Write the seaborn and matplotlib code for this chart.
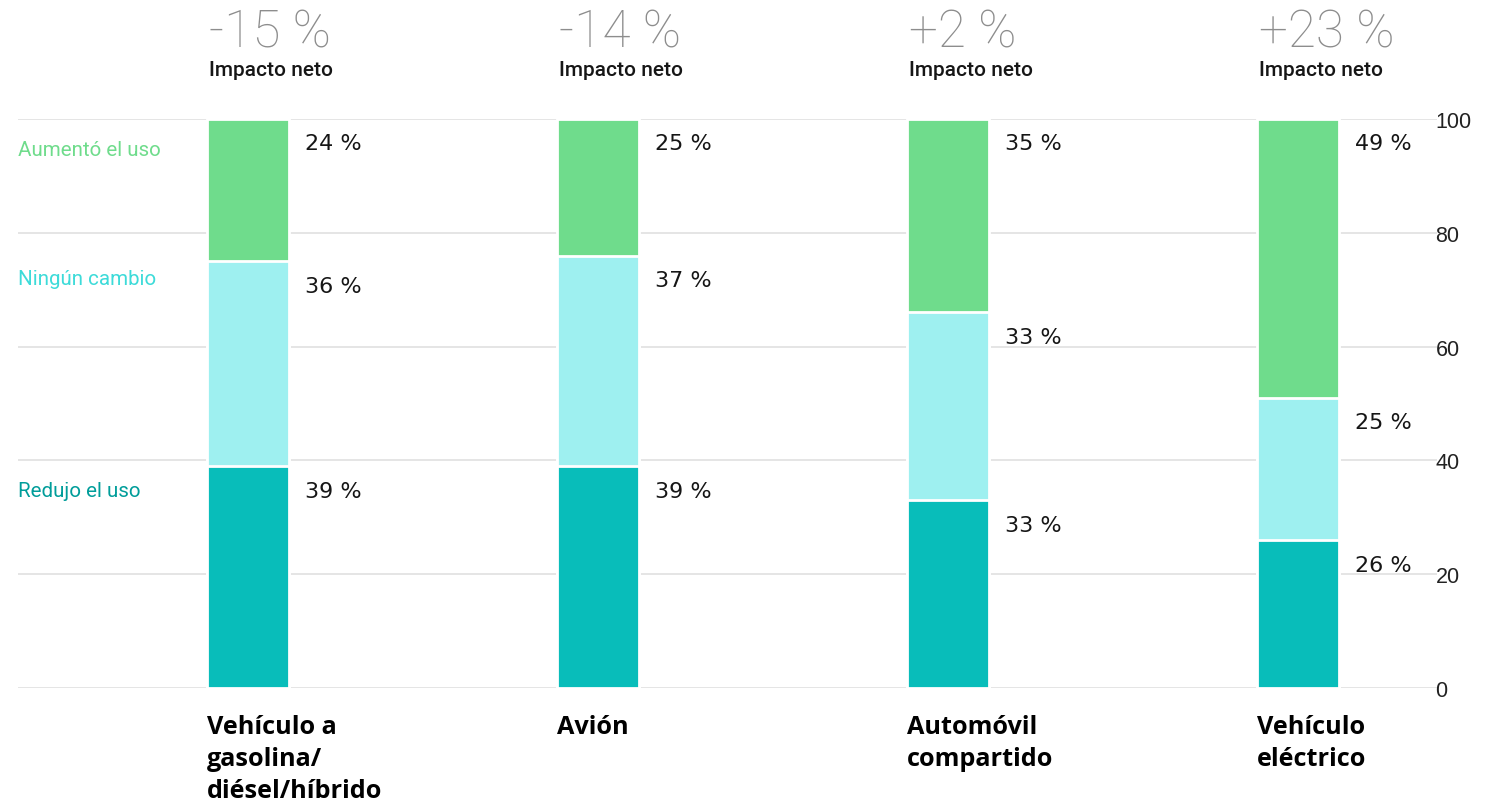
# Stacked bars: change in use of transport modes
import pandas as pd
import seaborn as sns
import matplotlib.pyplot as plt

# data
categories = ["Vehículo a\ngasolina/\ndiésel/híbrido", "Avión", "Automóvil\ncompartido", "Vehículo\neléctrico"]
redujo = [39, 39, 33, 26]
ningun = [36, 37, 33, 25]
aumento = [25, 24, 34, 49]
redujo_labels = ["39 %", "39 %", "33 %", "26 %"]
ningun_labels = ["36 %", "37 %", "33 %", "25 %"]
aumento_labels = ["24 %", "25 %", "35 %", "49 %"]
impacto = ["-15 %", "-14 %", "+2 %", "+23 %"]
series_names = ["Aumentó el uso", "Ningún cambio", "Redujo el uso"]
yticks = [0, 20, 40, 60, 80, 100]

c_green = "#6fdc8c"
c_cyan = "#9ef0f0"
c_teal = "#08bdba"
text_colors = ["#6fdc8c", "#3ddbd9", "#009d9a"]

df = pd.DataFrame({"cat": categories, "redujo": redujo, "ningun": ningun, "aumento": aumento})
df["low"] = df["redujo"]
df["mid"] = df["redujo"] + df["ningun"]
df["top"] = df["mid"] + df["aumento"]

sns.set_style("white")
plt.rcParams["font.family"] = ["Roboto", "DejaVu Sans"]

fig = plt.figure(figsize=(15.03, 8.03), dpi=100)
ax = fig.add_axes([18 / 1503, 1 - 689 / 803, (1437 - 18) / 1503, (689 - 120) / 803])

# gridlines
for y in yticks:
    ax.axhline(y, color="#e0e0e0", lw=1.2, zorder=0)

# stacked bars drawn as overlapping cumulative bars
w = 0.235
sns.barplot(data=df, x="cat", y="top", color=c_green, width=w, edgecolor="white", linewidth=2, saturation=1, ax=ax, zorder=2)
sns.barplot(data=df, x="cat", y="mid", color=c_cyan, width=w, edgecolor="white", linewidth=2, saturation=1, ax=ax, zorder=3)
sns.barplot(data=df, x="cat", y="low", color=c_teal, width=w, edgecolor="white", linewidth=2, saturation=1, ax=ax, zorder=4)

ax.set_xlim(-0.657, 3.397)
ax.set_ylim(0, 100)
ax.set_xlabel("")
ax.set_ylabel("")
ax.set_xticks([])
ax.yaxis.tick_right()
ax.set_yticks(yticks)
ax.set_yticklabels([str(t) for t in yticks], fontsize=15.5, color="#222222", family="Liberation Sans")
ax.tick_params(axis="y", length=0, pad=-1)
for s in ax.spines.values():
    s.set_visible(False)

# value labels right of each segment
off = 4.3
for i in range(len(categories)):
    xr = i + w / 2 + 0.045
    ax.text(xr, df["top"][i] - off, aumento_labels[i], fontsize=16, family="DejaVu Sans", va="center", color="#161616")
    ax.text(xr, df["mid"][i] - off, ningun_labels[i], fontsize=16, family="DejaVu Sans", va="center", color="#161616")
    ax.text(xr, df["low"][i] - off, redujo_labels[i], fontsize=16, family="DejaVu Sans", va="center", color="#161616")

# header and category texts aligned with the bar's left edge
for i in range(len(categories)):
    xl = (ax.transData.transform((i - w / 2, 0))[0] + 2) / 1503
    fig.text(xl, 1 - 33 / 803, impacto[i], fontsize=37, fontweight="light", color="#8d8d8d", va="center", ha="left")
    fig.text(xl, 1 - 70 / 803, "Impacto neto", fontsize=15, fontweight="medium", color="#161616", va="center", ha="left")
    fig.text(xl - 2 / 1503, 1 - 715 / 803, categories[i], fontsize=18.2, fontweight="bold", color="#000000", va="top",
             ha="left", linespacing=1.36, family=["Open Sans", "DejaVu Sans"])

# series names on the left
legend_y = [df["top"][0] - off - 1, df["mid"][0] - off + 1.2, df["low"][0] - off]
for name, yv, col in zip(series_names, legend_y, text_colors):
    ax.text(0, yv, name, transform=ax.get_yaxis_transform(), fontsize=14.8, color=col, va="center", ha="left")

plt.savefig("out.png", dpi=100)
